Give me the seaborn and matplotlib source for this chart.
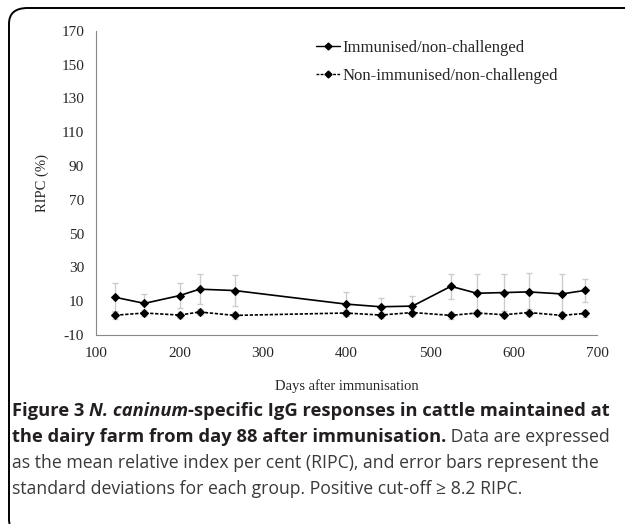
import numpy as np
import pandas as pd
import matplotlib.pyplot as plt
import seaborn as sns
from matplotlib.patches import FancyBboxPatch
from matplotlib.lines import Line2D

# values
days = [123, 158, 200, 224, 266, 399, 441, 479, 525, 556, 589, 618, 658, 686]
immunised_mean = [12.3, 8.7, 13.3, 17.1, 16.3, 8.3, 6.7, 7.1, 18.8, 14.7, 15.1, 15.5, 14.3, 16.4]
immunised_sd = [8.6, 5.6, 7.3, 8.7, 9.3, 7.0, 5.2, 5.8, 7.4, 11.5, 10.7, 11.3, 11.9, 6.6]
non_imm_mean = [1.7, 3.0, 1.8, 3.6, 1.6, 3.0, 1.8, 3.3, 1.6, 3.0, 2.0, 3.3, 1.6, 2.8]
non_imm_sd = [2.4, 2.0, 2.0, 2.0, 2.0, 2.0, 2.0, 2.0, 2.2, 2.0, 2.0, 2.0, 2.0, 2.0]
groups = ["Immunised/non-challenged", "Non-immunised/non-challenged"]
y_ticks = list(range(-10, 171, 20))
x_ticks = list(range(100, 701, 100))

sns.set_theme(style="white")
plt.rcParams["font.family"] = ["Liberation Serif", "DejaVu Serif"]
plt.rcParams["axes.unicode_minus"] = False

W, H = 625, 524
fig = plt.figure(figsize=(W / 100, H / 100), dpi=100)

def px(x, y):
    return x / W, 1 - y / H

# rounded frame around the figure panel (runs off right and bottom edges)
frame = FancyBboxPatch(px(9, 535), (720 - 9) / W, (535 - 8) / H,
                       boxstyle="round,pad=0,rounding_size=0.03",
                       transform=fig.transFigure, fill=False,
                       edgecolor="black", linewidth=1.4)
fig.patches.append(frame)

ax = fig.add_axes([96 / W, 1 - 335 / H, 501 / W, (335 - 30.7) / H])

df = pd.DataFrame({
    "day": days * 2,
    "ripc": immunised_mean + non_imm_mean,
    "sd": immunised_sd + non_imm_sd,
    "group": [groups[0]] * len(days) + [groups[1]] * len(days),
})

for g in groups:
    sub = df[df["group"] == g]
    ax.errorbar(sub["day"], sub["ripc"], yerr=sub["sd"], fmt="none",
                ecolor="#cccccc", elinewidth=1, capsize=2.5, capthick=1, zorder=1)

sns.lineplot(data=df, x="day", y="ripc", hue="group", style="group",
             palette=["black", "black"], dashes=[(None, None), (2, 1)],
             markers=["D", "D"], markersize=4, markeredgecolor="black",
             linewidth=1.2, legend=False, ax=ax, zorder=3)

ax.set_xlim(100, 700)
ax.set_ylim(-10, 170)
ax.set_xticks(x_ticks)
ax.set_yticks(y_ticks)
ax.set_xlabel("Days after immunisation", fontsize=10.5, labelpad=14)
ax.set_ylabel("RIPC (%)", fontsize=10.5, labelpad=9)
ax.tick_params(axis="both", labelsize=11, length=3.6, direction="out",
               color="#888888", width=0.8, pad=5)
for s in ["top", "right"]:
    ax.spines[s].set_visible(False)
for s in ["left", "bottom"]:
    ax.spines[s].set_color("#888888")
    ax.spines[s].set_linewidth(0.8)

handles = [
    Line2D([], [], color="black", lw=1.0, marker="D", markersize=3.5),
    Line2D([], [], color="black", lw=1.0, ls=(0, (2, 1)), marker="D", markersize=3.5),
]
ax.legend(handles, groups, loc="upper left", bbox_to_anchor=px(316, 40),
          bbox_transform=fig.transFigure, frameon=False, fontsize=12,
          handlelength=1.45, handletextpad=0.12, labelspacing=0.72,
          borderaxespad=0, borderpad=0)

# caption with mixed weights
cap_font = ["Open Sans", "DejaVu Sans"]
renderer = fig.canvas.get_renderer()

def caption_line(y, pieces):
    x = 12
    for txt, weight, style, color, size in pieces:
        t = fig.text(*px(x, y), txt, fontsize=size, fontweight=weight,
                     fontstyle=style, color=color, family=cap_font, va="center")
        x += t.get_window_extent(renderer).width

dark = "#231f20"
grey = "#3a3a3a"
bold_size = 13.2
reg_size = 12.7
caption_line(411, [("Figure 3 ", "bold", "normal", dark, bold_size),
                   ("N. caninum", "bold", "italic", dark, bold_size),
                   ("-specific IgG responses in cattle maintained at", "bold", "normal", dark, bold_size)])
caption_line(437, [("the dairy farm from day 88 after immunisation.", "bold", "normal", dark, bold_size),
                   (" Data are expressed", "normal", "normal", grey, reg_size)])
caption_line(463, [("as the mean relative index per cent (RIPC), and error bars represent the",
                    "normal", "normal", grey, reg_size)])
caption_line(489, [("standard deviations for each group. Positive cut-off \u2265 8.2 RIPC.",
                    "normal", "normal", grey, reg_size)])

fig.savefig("out.png", dpi=100)
